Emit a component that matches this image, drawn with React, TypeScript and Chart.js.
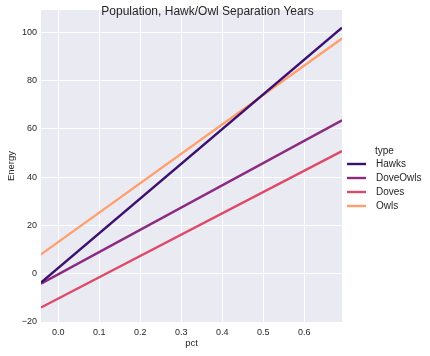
import React, { useEffect, useRef } from "react";
import { Chart, registerables } from "chart.js";

Chart.register(...registerables);

const pct = [-0.042, 0.692];
const types = ["Hawks", "DoveOwls", "Doves", "Owls"];
const hawks = [-3.7, 101.9];
const doveOwls = [-4.1, 63.5];
const doves = [-14.0, 50.8];
const owls = [8.0, 97.4];
const seriesValues = [hawks, doveOwls, doves, owls];
const colors = ["#3b0f70", "#8c2981", "#de4968", "#fe9f6d"];
const xTicks = [0, 0.1, 0.2, 0.3, 0.4, 0.5, 0.6];
const yTicks = [-20, 0, 20, 40, 60, 80, 100];
const yMin = -20;
const yMax = 109.2;
const titleText = "Population, Hawk/Owl Separation Years";
const legendTitle = "type";
const xLabel = "pct";
const yLabel = "Energy";

const FONT = "'Liberation Sans', Arial, sans-serif";
const TEXT = "#262626";

export default function App() {
  const ref = useRef<HTMLCanvasElement | null>(null);

  useEffect(() => {
    const canvas = ref.current;
    if (!canvas) return;

    const bgPlugin = {
      id: "bg",
      beforeDraw(chart: any) {
        const { ctx, chartArea } = chart;
        ctx.save();
        ctx.fillStyle = "#EAEAF2";
        ctx.fillRect(chartArea.left, chartArea.top, chartArea.right - chartArea.left, chartArea.bottom - chartArea.top);
        ctx.restore();
      },
      afterDraw(chart: any) {
        const { ctx } = chart;
        ctx.save();
        // title
        ctx.fillStyle = TEXT;
        ctx.font = `12px ${FONT}`;
        ctx.textAlign = "center";
        ctx.textBaseline = "middle";
        ctx.fillText(titleText, 207.5, 11.5);
        // legend
        ctx.font = `10px ${FONT}`;
        ctx.textAlign = "left";
        ctx.fillText(legendTitle, 375, 151);
        types.forEach((t, i) => {
          const y = 164 + i * 14;
          ctx.strokeStyle = colors[i];
          ctx.lineWidth = 2.4;
          ctx.beginPath();
          ctx.moveTo(347, y);
          ctx.lineTo(366, y);
          ctx.stroke();
          ctx.fillStyle = TEXT;
          ctx.fillText(t, 376, y);
        });
        ctx.restore();
      },
    };

    const chart = new Chart(canvas, {
      type: "line",
      data: {
        datasets: types.map((t, i) => ({
          label: t,
          data: pct.map((x, j) => ({ x, y: seriesValues[i][j] })),
          borderColor: colors[i],
          backgroundColor: colors[i],
          borderWidth: 2.4,
          pointRadius: 0,
          fill: false,
        })),
      },
      options: {
        responsive: false,
        animation: false,
        layout: { padding: { top: 10, right: 88, left: 0, bottom: 0 } },
        plugins: {
          legend: { display: false },
          tooltip: { enabled: false },
          title: { display: false },
        },
        scales: {
          x: {
            type: "linear",
            min: pct[0],
            max: pct[1],
            afterBuildTicks: (s: any) => {
              s.ticks = xTicks.map((v) => ({ value: v }));
            },
            afterFit: (s: any) => {
              s.height = 34;
            },
            grid: { color: "#ffffff", lineWidth: 1, drawTicks: false },
            border: { display: false },
            ticks: {
              color: TEXT,
              font: { family: FONT, size: 9 },
              padding: 5,
              callback: (v: any) => Number(v).toFixed(1),
            },
            title: {
              display: true,
              text: xLabel,
              color: TEXT,
              font: { family: FONT, size: 9.5 },
              padding: { top: 0, bottom: 6.5 },
            },
          },
          y: {
            type: "linear",
            min: yMin,
            max: yMax,
            afterBuildTicks: (s: any) => {
              s.ticks = yTicks.map((v) => ({ value: v }));
            },
            afterFit: (s: any) => {
              s.width = 41;
            },
            grid: { color: "#ffffff", lineWidth: 1, drawTicks: false },
            border: { display: false },
            ticks: {
              color: TEXT,
              font: { family: FONT, size: 9 },
              padding: 4,
              callback: (v: any) => (Number(v) < 0 ? "\u2212" + Math.abs(Number(v)) : String(v)),
            },
            title: {
              display: true,
              text: yLabel,
              color: TEXT,
              font: { family: FONT, size: 9.5 },
              padding: { top: 6, bottom: 0 },
            },
          },
        },
      },
      plugins: [bgPlugin],
    } as any);

    return () => chart.destroy();
  }, []);

  return (
    <div style={{ position: "fixed", left: 0, top: 0, width: 430, height: 356 }}>
      <canvas ref={ref} width={430} height={356} style={{ display: "block" }} />
    </div>
  );
}
